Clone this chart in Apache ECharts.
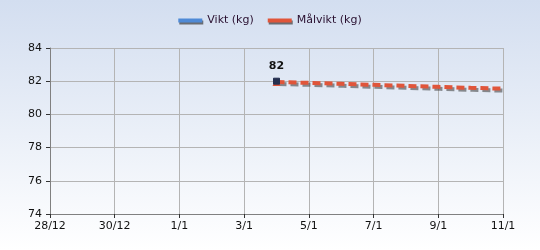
<!DOCTYPE html>
<html><head><meta charset="utf-8">
<script src="https://cdn.jsdelivr.net/npm/echarts@6/dist/echarts.min.js"></script>
<style>html,body{margin:0;padding:0;}#c{width:540px;height:250px;}</style>
</head><body><div id="c"></div>
<script>
const categories = ['28/12','29/12','30/12','31/12','1/1','2/1','3/1','4/1','5/1','6/1','7/1','8/1','9/1','10/1','11/1'];
const vikt = [null,null,null,null,null,null,null,82,null,null,null,null,null,null,null];
const malvikt = [null,null,null,null,null,null,null,81.95,81.9,81.84,81.78,81.72,81.66,81.6,81.55];
const yTicks = {min:74, max:84, interval:2};

const chart = echarts.init(document.getElementById('c'));
const font = 'DejaVu Sans';
chart.setOption({
  animation:false,
  backgroundColor:{type:'linear',x:0,y:0,x2:0,y2:1,colorStops:[{offset:0,color:'#d3def0'},{offset:1,color:'#ffffff'}]},
  textStyle:{fontFamily:font},
  legend:{
    top:10, left:'center', itemWidth:24, itemHeight:4, itemGap:14,
    textStyle:{fontFamily:font,fontSize:11,color:'#2a1030'},
    data:[
      {name:'Vikt (kg)', icon:'rect', itemStyle:{color:'#4f8ad6',shadowColor:'rgba(60,60,60,0.7)',shadowOffsetY:2,shadowOffsetX:1}},
      {name:'Målvikt (kg)', icon:'rect', itemStyle:{color:'#e0553a',shadowColor:'rgba(60,60,60,0.7)',shadowOffsetY:2,shadowOffsetX:1}}
    ]
  },
  grid:{left:50,right:37,top:48,bottom:36},
  xAxis:{
    type:'category', data:categories, boundaryGap:false,
    axisLine:{lineStyle:{color:'#808080'}},
    axisTick:{interval:1,length:4,lineStyle:{color:'#333'}},
    axisLabel:{interval:1,color:'#111',fontFamily:font,fontSize:11,margin:7},
    splitLine:{show:true,interval:1,lineStyle:{color:'#b4b4b4'}}
  },
  yAxis:{
    type:'value', min:yTicks.min, max:yTicks.max, interval:yTicks.interval,
    axisLine:{show:true,lineStyle:{color:'#808080'}},
    axisTick:{show:true,length:4,lineStyle:{color:'#333'}},
    axisLabel:{color:'#111',fontFamily:font,fontSize:11,margin:8},
    splitLine:{lineStyle:{color:'#b4b4b4'}}
  },
  series:[
    {name:'Målvikt (kg)', type:'line', connectNulls:true,
     data:malvikt.map((v,i)=> (v!==null && (i===0 || malvikt[i-1]===null)) ? {value:v,symbol:'triangle',symbolSize:8} : v),
     symbol:'none',
     itemStyle:{color:'#e0553a'},
     lineStyle:{color:'#e0553a',width:4,type:[8,4],shadowColor:'rgba(70,70,70,0.6)',shadowOffsetX:2,shadowOffsetY:2,shadowBlur:0},
     z:2},
    {name:'Vikt (kg)', type:'line', data:vikt, connectNulls:true,
     symbol:'rect', symbolSize:6,
     itemStyle:{color:'#253050',borderColor:'#253050'},
     lineStyle:{color:'#4f8ad6',width:3},
     label:{show:true,position:'top',color:'#111',fontFamily:font,fontSize:11,fontWeight:'bold',distance:6},
     z:3}
  ]
});
</script></body></html>
